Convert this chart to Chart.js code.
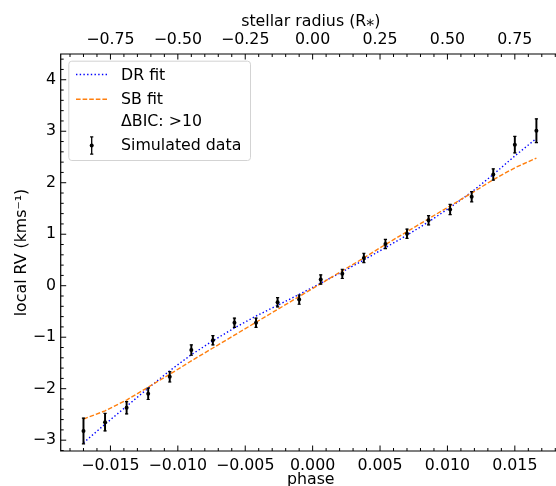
<!DOCTYPE html>
<html>
<head>
<meta charset="utf-8">
<script src="https://cdn.jsdelivr.net/npm/chart.js@4.4.0/dist/chart.umd.min.js"></script>
<style>
  html, body { margin: 0; padding: 0; background: #fff; overflow: hidden; }
  #wrap { position: relative; width: 566px; height: 486px; }
</style>
</head>
<body>
<div id="wrap"><canvas id="rvChart" width="566" height="486"></canvas></div>
<script>
// simulated exposures: phase, local RV (km/s) and 1-sigma errors
const phase = [-0.0170, -0.0154, -0.0138, -0.0122, -0.0106, -0.0090, -0.0074, -0.0058,
               -0.0042, -0.0026, -0.0010, 0.0006, 0.0022, 0.0038, 0.0054, 0.0070,
               0.0086, 0.0102, 0.0118, 0.0134, 0.0150, 0.0166];
const localRV = [-2.82, -2.65, -2.37, -2.10, -1.77, -1.25, -1.06, -0.72,
                 -0.72, -0.32, -0.27, 0.12, 0.23, 0.54, 0.81, 1.01,
                 1.27, 1.48, 1.73, 2.16, 2.74, 3.01];
const rvErr = [0.25, 0.17, 0.12, 0.11, 0.10, 0.10, 0.09, 0.09,
               0.09, 0.09, 0.09, 0.09, 0.09, 0.09, 0.09, 0.09,
               0.09, 0.10, 0.10, 0.11, 0.16, 0.23];

// model curves at the same phases
const drFit = [-3.05, -2.69, -2.34, -1.99, -1.65, -1.34, -1.07, -0.82,
               -0.59, -0.38, -0.17, 0.05, 0.27, 0.50, 0.74, 0.98,
               1.24, 1.52, 1.82, 2.16, 2.52, 2.86];
const sbFit = [-2.59, -2.43, -2.22, -1.97, -1.72, -1.46, -1.21, -0.96,
               -0.71, -0.46, -0.21, 0.04, 0.29, 0.54, 0.80, 1.05,
               1.30, 1.55, 1.80, 2.06, 2.29, 2.48];

const legendLabels = ['DR fit', 'SB fit', 'ΔBIC: >10', 'Simulated data'];

// the original axes run a little past the right edge of the picture
const phaseRange = [-0.01869, 0.01841];
const rvRange = [-3.21, 4.5];
const radiusPerPhase = 50;   // top axis: stellar radius = 50 * phase

const FONT = 'DejaVu Sans';
const FS = 15.8;

function isMajor(v, step) {
    const r = v / step;
    return Math.abs(r - Math.round(r)) < 1e-6;
}
function fmt(v, dec) {
    if (Math.abs(v) < 1e-9) v = 0;
    return v.toFixed(dec).replace('-', '\u2212');
}

// left/top/bottom spines + inward ticks like matplotlib
const frameTicks = {
    id: 'frameTicks',
    afterDraw(chart) {
        const ctx = chart.ctx;
        const a = chart.chartArea;
        const sx = chart.scales.x, sx2 = chart.scales.x2, sy = chart.scales.y;
        ctx.save();
        ctx.strokeStyle = '#000';
        ctx.lineWidth = 1.2;
        ctx.beginPath();
        ctx.moveTo(chart.width, a.top); ctx.lineTo(a.left, a.top);
        ctx.lineTo(a.left, a.bottom); ctx.lineTo(chart.width, a.bottom);
        ctx.stroke();
        ctx.lineWidth = 1;
        ctx.beginPath();
        sx.ticks.forEach(t => {
            const p = sx.getPixelForValue(t.value);
            const len = isMajor(t.value, 0.005) ? 5.5 : 3;
            ctx.moveTo(p, a.bottom); ctx.lineTo(p, a.bottom - len);
        });
        sx2.ticks.forEach(t => {
            const p = sx2.getPixelForValue(t.value);
            const len = isMajor(t.value, 0.25) ? 5.5 : 3;
            ctx.moveTo(p, a.top); ctx.lineTo(p, a.top + len);
        });
        sy.ticks.forEach(t => {
            const p = sy.getPixelForValue(t.value);
            const len = isMajor(t.value, 1) ? 5.5 : 3;
            ctx.moveTo(a.left, p); ctx.lineTo(a.left + len, p);
        });
        ctx.stroke();
        ctx.restore();
    }
};

const legendBox = {
    id: 'legendBox',
    afterDatasetsDraw(chart) {
        const ctx = chart.ctx;
        const ds = chart.data.datasets;
        ctx.save();
        ctx.beginPath();
        ctx.roundRect(68.8, 61.2, 181.7, 99.3, 3);
        ctx.fillStyle = 'rgba(255,255,255,0.85)';
        ctx.fill();
        ctx.strokeStyle = '#d3d3d3';
        ctx.lineWidth = 1;
        ctx.stroke();

        // line handles
        [[ds[0], 74.5], [ds[1], 99.3]].forEach(([d, y]) => {
            ctx.beginPath();
            ctx.setLineDash(d.borderDash);
            ctx.strokeStyle = d.borderColor;
            ctx.lineWidth = d.borderWidth;
            ctx.moveTo(76, y); ctx.lineTo(107.5, y);
            ctx.stroke();
        });
        ctx.setLineDash([]);

        // error bar handle
        const hx = 91.7, hy = 145.5, hh = 8.7;
        ctx.strokeStyle = '#000';
        ctx.lineWidth = 1.3;
        ctx.beginPath();
        ctx.moveTo(hx, hy - hh); ctx.lineTo(hx, hy + hh);
        ctx.moveTo(hx - 1.6, hy - hh); ctx.lineTo(hx + 1.6, hy - hh);
        ctx.moveTo(hx - 1.6, hy + hh); ctx.lineTo(hx + 1.6, hy + hh);
        ctx.stroke();
        ctx.beginPath();
        ctx.arc(hx, hy, 2, 0, Math.PI * 2);
        ctx.fillStyle = '#000';
        ctx.fill();

        ctx.font = FS + 'px "' + FONT + '"';
        ctx.fillStyle = '#000';
        ctx.textBaseline = 'middle';
        ctx.textAlign = 'left';
        [76, 100.3, 122.3, 145.6].forEach((y, i) => ctx.fillText(legendLabels[i], 121, y));
        ctx.restore();
    }
};

const tickFont = { family: FONT, size: FS, lineHeight: 1.2 };
const titleFont = { family: FONT, size: FS, lineHeight: 1 };

function noSidePadding(s) {
    s.paddingLeft = 0;
    s.paddingRight = 0;
}

new Chart(document.getElementById('rvChart'), {
    data: {
        datasets: [
            {
                type: 'line', label: legendLabels[0],
                data: phase.map((p, i) => ({ x: p, y: drFit[i] })),
                borderColor: '#0000ff', borderWidth: 1.4, borderDash: [1.4, 2.3],
                pointRadius: 0, fill: false, tension: 0, order: 4
            },
            {
                type: 'line', label: legendLabels[1],
                data: phase.map((p, i) => ({ x: p, y: sbFit[i] })),
                borderColor: '#ff7f0e', borderWidth: 1.4, borderDash: [4.6, 2],
                pointRadius: 0, fill: false, tension: 0, order: 3
            },
            {
                type: 'bar', label: 'errors',
                data: phase.map((p, i) => ({ x: p, y: [localRV[i] - rvErr[i], localRV[i] + rvErr[i]] })),
                backgroundColor: '#000', borderWidth: 0, barThickness: 1.3, order: 2
            },
            {
                type: 'scatter', label: 'caps',
                data: phase.map((p, i) => ({ x: p, y: localRV[i] - rvErr[i] }))
                    .concat(phase.map((p, i) => ({ x: p, y: localRV[i] + rvErr[i] }))),
                pointStyle: 'line', pointRadius: 1.6, borderColor: '#000', borderWidth: 1.2, order: 1
            },
            {
                type: 'scatter', label: legendLabels[3],
                data: phase.map((p, i) => ({ x: p, y: localRV[i] })),
                pointRadius: 2, backgroundColor: '#000', borderWidth: 0, order: 0
            }
        ]
    },
    options: {
        responsive: false,
        animation: false,
        devicePixelRatio: 1,
        layout: { padding: 0 },
        plugins: { legend: { display: false }, tooltip: { enabled: false } },
        scales: {
            x: {
                type: 'linear', position: 'bottom', offset: false,
                min: phaseRange[0], max: phaseRange[1],
                grid: { display: false, drawTicks: false }, border: { display: false },
                ticks: {
                    stepSize: 0.001, includeBounds: false, autoSkip: false,
                    maxRotation: 0, minRotation: 0, padding: 5, color: '#000', font: tickFont,
                    callback: v => isMajor(v, 0.005) ? fmt(v, 3) : ''
                },
                title: { display: true, text: 'phase', color: '#000', font: titleFont, padding: { top: 0, bottom: -2 } },
                afterFit: s => { s.height = 35; noSidePadding(s); }
            },
            x2: {
                type: 'linear', position: 'top', offset: false,
                min: phaseRange[0] * radiusPerPhase, max: phaseRange[1] * radiusPerPhase,
                grid: { display: false, drawTicks: false }, border: { display: false },
                ticks: {
                    stepSize: 0.05, includeBounds: false, autoSkip: false,
                    maxRotation: 0, minRotation: 0, padding: 4.3, color: '#000', font: tickFont,
                    callback: v => isMajor(v, 0.25) ? fmt(v, 2) : ''
                },
                title: { display: true, text: 'stellar radius (R\u204E)', color: '#000', font: titleFont, padding: { top: 14, bottom: 0 } },
                afterFit: s => { s.height = 54; noSidePadding(s); }
            },
            y: {
                type: 'linear', position: 'left',
                min: rvRange[0], max: rvRange[1],
                grid: { display: false, drawTicks: false }, border: { display: false },
                ticks: {
                    stepSize: 0.2, includeBounds: false, autoSkip: false,
                    padding: 4.7, color: '#000', font: tickFont,
                    callback: v => isMajor(v, 1) ? fmt(v, 0) : ''
                },
                title: { display: true, text: 'local RV (kms\u207B\u00B9)', color: '#000', font: titleFont, padding: { top: 14, bottom: 0 } },
                afterFit: s => { s.width = 60.7; s.paddingTop = 0; s.paddingBottom = 0; }
            }
        }
    },
    plugins: [frameTicks, legendBox]
});
</script>
</body>
</html>
